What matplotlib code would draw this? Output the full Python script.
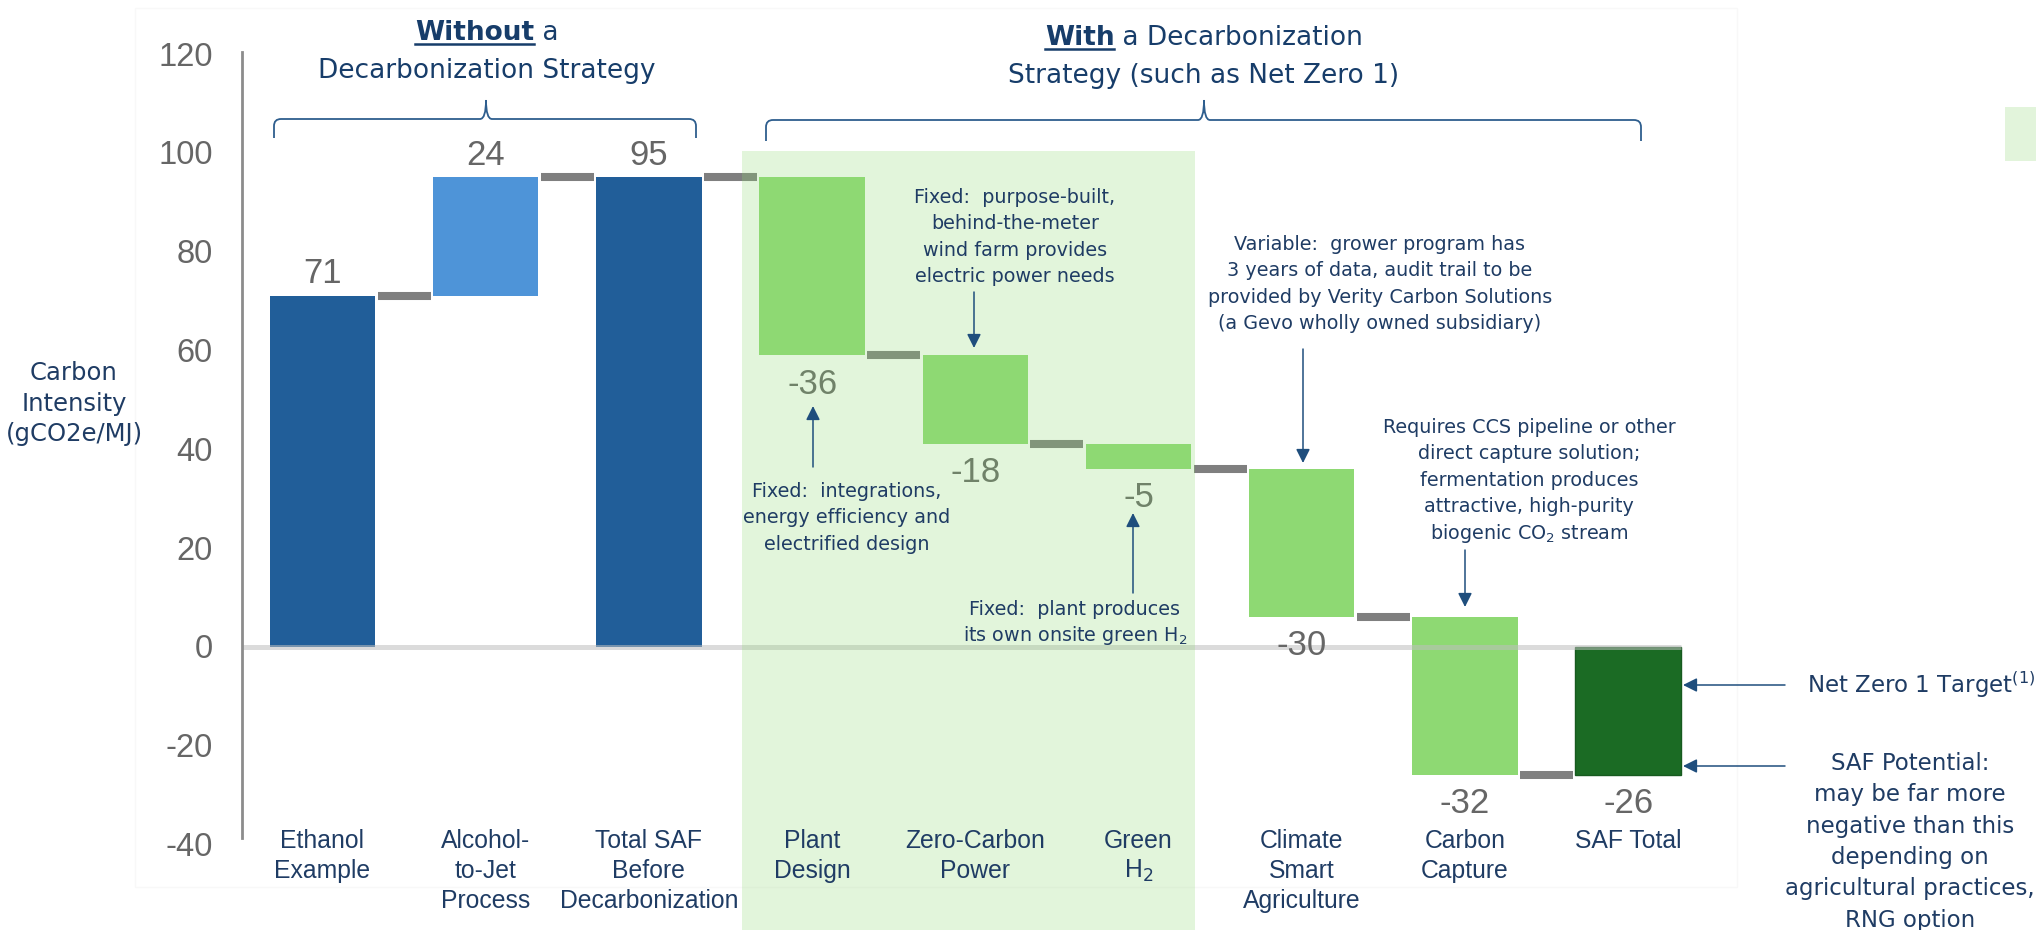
import numpy as np
import matplotlib
matplotlib.use("Agg")
import matplotlib.pyplot as plt
from matplotlib.transforms import Affine2D, blended_transform_factory
from matplotlib.patches import Rectangle, PathPatch
from matplotlib.path import Path
from matplotlib.lines import Line2D

plt.rcParams["font.family"] = ["DejaVu Sans"]

# ---------------- data ----------------
categories = ["Ethanol\nExample", "Alcohol-\nto-Jet\nProcess", "Total SAF\nBefore\nDecarbonization",
              "Plant\nDesign", "Zero-Carbon\nPower", "Green\nH$_2$", "Climate\nSmart\nAgriculture",
              "Carbon\nCapture", "SAF Total"]
values = [71, 24, 95, -36, -18, -5, -30, -32, -26]
is_total = [True, False, True, False, False, False, False, False, True]
bar_colors = ["#215E99", "#4E94D8", "#215E99", "#8ED973", "#8ED973",
              "#8ED973", "#8ED973", "#8ED973", "#1B6B24"]
y_ticks = [-40, -20, 0, 20, 40, 60, 80, 100, 120]
y_title = ["Carbon", "Intensity", "(gCO2e/MJ)"]

# ---------------- figure / coordinate helpers ----------------
W_PX, H_PX = 2036, 930
fig = plt.figure(figsize=(W_PX / 100, H_PX / 100), dpi=100, facecolor="white")
ax = fig.add_axes([0, 0, 1, 1])
ax.patch.set_visible(False)

# pixel layout transform: x right, y down from the top-left corner
PX = Affine2D().scale(1 / W_PX, -1 / H_PX).translate(0, 1) + fig.transFigure

SLOT, X0_PX = 163.2, 322.5      # px per category, centre of first bar
UNIT, ZERO_PX = 4.94, 646.5      # px per gCO2e/MJ, position of zero
ax.set_xlim(-X0_PX / SLOT, (W_PX - X0_PX) / SLOT)
ax.set_ylim((ZERO_PX - H_PX) / UNIT, ZERO_PX / UNIT)

NAVY = "#1F3C64"
TITLE = "#173D6A"
ARROW = "#1F4E7D"
BRACE = "#2E5E8E"
GRAY_TXT = "#666666"

# ---------------- waterfall ----------------
x = np.arange(len(values))
width = 0.645
bottoms, heights, ends = [], [], []
level = 0
for v, tot in zip(values, is_total):
    start = 0 if tot else level
    end = v if tot else level + v
    bottoms.append(start)
    heights.append(end - start)
    ends.append(end)
    level = end

ax.bar(x, heights, bottom=bottoms, width=width, color=bar_colors, zorder=2,
       edgecolor=["none"] * 8 + ["#175A1F"], linewidth=1)

# connectors between consecutive bars
for i in range(len(values) - 1):
    ax.hlines(ends[i], x[i] + width / 2 + 0.015, x[i + 1] - width / 2 - 0.015,
              color="#7F7F7F", lw=5.8, zorder=2.5, capstyle="butt")

# zero line
ax.hlines(0, -0.493, x[-1] + width / 2, color="#BFBFBF", lw=3.6, alpha=0.55, zorder=2.5)

# value labels
for xi, b, h in zip(x, bottoms, heights):
    if h >= 0:
        ax.annotate(f"{h}", xy=(xi, b + h), xytext=(0, 15.8), textcoords="offset points",
                    ha="center", va="center", fontsize=25, color=GRAY_TXT,
                    family="Liberation Sans", zorder=2.6)
    else:
        ax.annotate(f"{h}", xy=(xi, b + h), xytext=(0, -20.9), textcoords="offset points",
                    ha="center", va="center", fontsize=25, color=GRAY_TXT,
                    family="Liberation Sans", zorder=2.6)

# ---------------- axis ----------------
for s in ["top", "right", "bottom"]:
    ax.spines[s].set_visible(False)
ax.spines["left"].set_position(("data", -0.493))
ax.spines["left"].set_bounds(-38.7, 120.4)
ax.spines["left"].set_color("#8C8C8C")
ax.spines["left"].set_linewidth(2)
ax.set_xticks([])
ax.set_yticks(y_ticks)
ax.set_yticklabels([str(t) for t in y_ticks])
ax.tick_params(axis="y", length=0, pad=21, labelsize=23.5, labelcolor=GRAY_TXT)
for lbl in ax.get_yticklabels():
    lbl.set_family("Liberation Sans")

# ---------------- shaded strategy region & frame ----------------
ax.add_patch(Rectangle((742, 151), 453, 800, transform=PX, facecolor="#8ED973",
                       alpha=0.25, edgecolor="none", zorder=3, clip_on=False))
ax.add_patch(Rectangle((135, 8), 1602, 879, transform=PX, fill=False,
                       edgecolor="#F8F8F8", lw=1, zorder=0, clip_on=False))
ax.add_patch(Rectangle((2005, 107), 40, 54, transform=PX, facecolor="#E2F4DB",
                       edgecolor="none", zorder=0, clip_on=False))


def stack(xc, base, lines, step, transform=PX, **kw):
    for k, s in enumerate(lines):
        ax.text(xc, base + k * step, s, transform=transform, va="baseline",
                zorder=5, clip_on=False, **kw)


# category labels
cat_tr = blended_transform_factory(ax.transData, PX)
for xi, cat in zip(x, categories):
    stack(xi, 848, cat.split("\n"), 30, transform=cat_tr, ha="center",
          fontsize=17.8, color=NAVY, family="Liberation Sans")

# y-axis title
stack(74, 380, y_title, 30.5, ha="center", fontsize=17.5, color=NAVY)

# ---------------- titles with underlined bold word ----------------
renderer = fig.canvas.get_renderer()


def title_line(cx, base, parts, size=19):
    arts = []
    for s, bold in parts:
        t = ax.text(0, base, s, transform=PX, fontsize=size,
                    fontweight="bold" if bold else "normal", color=TITLE,
                    va="baseline", ha="left", zorder=5, clip_on=False)
        arts.append((t, t.get_window_extent(renderer).width, bold))
    total = sum(w for _, w, _ in arts)
    xx = cx - total / 2
    for t, w, bold in arts:
        t.set_x(xx)
        if bold:
            ax.add_line(Line2D([xx, xx + w], [base + 4, base + 4], transform=PX,
                               color=TITLE, lw=1.8, zorder=5, clip_on=False))
        xx += w


title_line(487, 40, [("Without", True), (" a", False)])
stack(487, 78, ["Decarbonization Strategy"], 0, ha="center", fontsize=19, color=TITLE)
title_line(1204, 45, [("With", True), (" a Decarbonization", False)])
stack(1204, 83, ["Strategy (such as Net Zero 1)"], 0, ha="center", fontsize=19, color=TITLE)


# ---------------- braces ----------------
def brace(x0, x1, xc, y_arm, y_tip, y_end, r=7, rt=6):
    M, L, C = Path.MOVETO, Path.LINETO, Path.CURVE3
    verts = [(x0, y_end), (x0, y_arm + r), (x0, y_arm), (x0 + r, y_arm),
             (xc - rt, y_arm), (xc, y_arm), (xc, y_tip),
             (xc, y_arm), (xc + rt, y_arm),
             (x1 - r, y_arm), (x1, y_arm), (x1, y_arm + r), (x1, y_end)]
    codes = [M, L, C, C, L, C, C, C, C, L, C, C, L]
    ax.add_patch(PathPatch(Path(verts, codes), transform=PX, fill=False,
                           edgecolor=BRACE, lw=1.3, zorder=5, clip_on=False))


brace(274, 696, 486, 119, 100, 138)
brace(766, 1641, 1204, 120, 100, 141)

# ---------------- annotations ----------------
notes = [
    (1015, 203, ["Fixed:  purpose-built,", "behind-the-meter",
                 "wind farm provides", "electric power needs"]),
    (847, 497, ["Fixed:  integrations,", "energy efficiency and", "electrified design"]),
    (1075, 615, ["Fixed:  plant produces", "its own onsite green H$_2$"]),
    (1380, 250, ["Variable:  grower program has", "3 years of data, audit trail to be",
                 "provided by Verity Carbon Solutions", "(a Gevo wholly owned subsidiary)"]),
    (1529, 433, ["Requires CCS pipeline or other", "direct capture solution;",
                 "fermentation produces", "attractive, high-purity",
                 "biogenic CO$_2$ stream"]),
]
for cx, base, lines in notes:
    stack(cx, base, lines, 26.4, ha="center", fontsize=13.8, color=NAVY)

ax.text(1807, 693, "Net Zero 1 Target$^{(1)}$", transform=PX, va="baseline", ha="left",
        fontsize=16.5, color=NAVY, zorder=5, clip_on=False)
stack(1910, 770, ["SAF Potential:", "may be far more", "negative than this",
                  "depending on", "agricultural practices,", "RNG option"],
      31.3, ha="center", fontsize=16.5, color=NAVY)

arrows = [
    ((974, 292), (974, 348)),
    ((813, 467), (813, 406)),
    ((1133, 593), (1133, 513)),
    ((1303, 349), (1303, 463)),
    ((1465, 550), (1465, 607)),
    ((1785, 685), (1683, 685)),
    ((1785, 766), (1683, 766)),
]
for tail, tip in arrows:
    ax.annotate("", xy=tip, xycoords=PX, xytext=tail, textcoords=PX,
                arrowprops=dict(arrowstyle="-|>,head_length=0.6,head_width=0.3",
                                mutation_scale=14, color=ARROW, lw=1.1,
                                shrinkA=0, shrinkB=0),
                zorder=5, annotation_clip=False)

fig.savefig("out.png", dpi=100, facecolor="white")
